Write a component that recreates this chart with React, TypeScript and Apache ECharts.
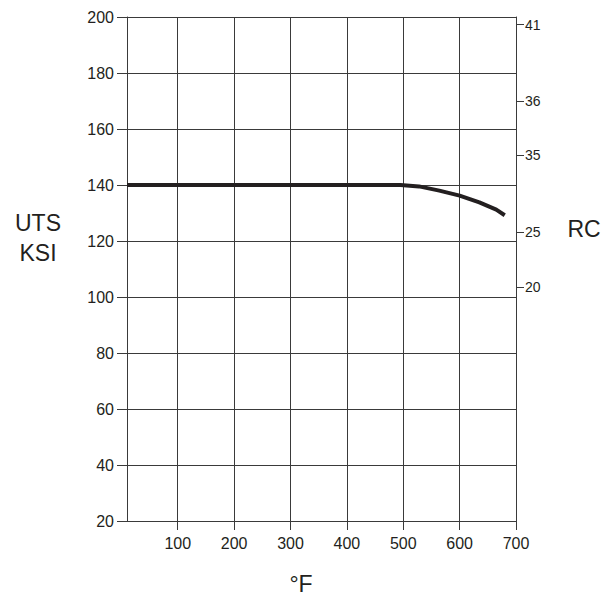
import React, { useEffect, useRef } from "react";
import * as echarts from "echarts";

const tempTicks = [100, 200, 300, 400, 500, 600, 700];
const utsTicks = [20, 40, 60, 80, 100, 120, 140, 160, 180, 200];
const rcLabels = ["41", "36", "35", "25", "20"];
const rcPositionsKsi = [197.3, 169.9, 150.8, 123.3, 103.6];
const tempF = [10, 495, 528, 564, 600, 635, 665, 680];
const utsKsi = [140, 140, 139.5, 138, 136.2, 133.8, 131.2, 129.2];

const FONT = "'Liberation Sans', Arial, Helvetica, sans-serif";
const TXT = "#231f20";
const LINE = "#3a3a3a";

export default function App() {
  const ref = useRef<HTMLDivElement>(null);
  useEffect(() => {
    if (!ref.current) return;
    const chart = echarts.init(ref.current, null, { renderer: "svg" });
    const rcMap: Record<string, string> = {};
    rcPositionsKsi.forEach((v, i) => (rcMap[String(v)] = rcLabels[i]));
    chart.setOption({
      animation: false,
      backgroundColor: "#ffffff",
      grid: {
        left: 127,
        top: 17,
        right: 93,
        bottom: 79,
        containLabel: false,
        outerBoundsMode: "none",
      },
      xAxis: {
        type: "value",
        min: 10,
        max: 700,
        axisLine: { show: true, lineStyle: { color: LINE, width: 1 } },
        axisTick: {
          show: true,
          customValues: tempTicks,
          length: 9,
          lineStyle: { color: LINE, width: 1 },
        },
        axisLabel: {
          customValues: tempTicks,
          color: TXT,
          fontFamily: FONT,
          fontSize: 16,
          margin: 14,
        },
        splitLine: {
          show: true,
          customValues: tempTicks,
          lineStyle: { color: LINE, width: 1 },
        },
      },
      yAxis: [
        {
          type: "value",
          position: "left",
          min: 20,
          max: 200,
          interval: 20,
          data: utsTicks,
          axisLine: { show: true, lineStyle: { color: LINE, width: 1 } },
          axisTick: { show: true, length: 10, lineStyle: { color: LINE, width: 1 } },
          axisLabel: {
            color: TXT,
            fontFamily: FONT,
            fontSize: 16,
            margin: 13,
          },
          splitLine: { show: true, lineStyle: { color: LINE, width: 1 } },
        },
        {
          type: "value",
          position: "right",
          min: 20,
          max: 200,
          axisLine: { show: true, lineStyle: { color: LINE, width: 1 } },
          axisTick: {
            show: true,
            inside: false,
            customValues: rcPositionsKsi,
            length: 8,
            lineStyle: { color: LINE, width: 1 },
          },
          axisLabel: {
            customValues: rcPositionsKsi,
            formatter: (v: number) => rcMap[String(v)] ?? "",
            color: TXT,
            fontFamily: FONT,
            fontSize: 14,
            margin: 9,
          },
          splitLine: { show: false },
        },
      ],
      graphic: [
        {
          type: "text",
          x: 38,
          y: 238,
          style: {
            text: "UTS\nKSI",
            font: `23px ${FONT}`,
            fill: TXT,
            align: "center",
            verticalAlign: "middle",
            lineHeight: 30,
          },
        },
        {
          type: "text",
          x: 584,
          y: 229,
          style: {
            text: "RC",
            font: `23px ${FONT}`,
            fill: TXT,
            align: "center",
            verticalAlign: "middle",
          },
        },
        {
          type: "text",
          x: 301,
          y: 584,
          style: {
            text: "°F",
            font: `23px ${FONT}`,
            fill: TXT,
            align: "center",
            verticalAlign: "middle",
          },
        },
      ],
      series: [
        {
          type: "line",
          yAxisIndex: 0,
          data: tempF.map((t, i) => [t, utsKsi[i]]),
          smooth: false,
          showSymbol: false,
          symbol: "none",
          lineStyle: { color: "#231f20", width: 4, join: "round" },
        },
      ],
    });
    return () => chart.dispose();
  }, []);
  return (
    <div
      ref={ref}
      style={{ position: "fixed", left: 0, top: 0, width: 609, height: 600, background: "#fff" }}
    />
  );
}
